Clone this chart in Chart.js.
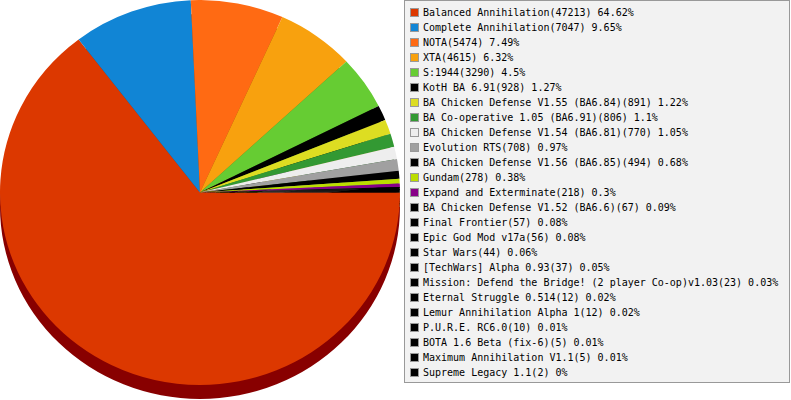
<!DOCTYPE html>
<html>
<head>
<meta charset="utf-8">
<script src="https://cdn.jsdelivr.net/npm/chart.js@4/dist/chart.umd.min.js"></script>
<style>
  body { margin: 0; background: #fff; width: 791px; height: 400px; overflow: hidden; position: relative; }
  #pieWrap { position: absolute; left: 0; top: 0; width: 400px; height: 400px; }
  #legend {
    position: absolute; left: 404px; top: 0; width: 384px; height: 377px;
    border: 1px solid #999; background: #f2f2f2; padding-top: 4px;
    font-family: "DejaVu Sans Mono", monospace; font-size: 10px; color: #000;
  }
  .fila { height: 15px; display: flex; align-items: center; white-space: nowrap; }
  .caja { width: 7px; height: 7px; border: 1px solid #999; margin-left: 5px; margin-right: 4px; }
</style>
</head>
<body>
<div id="pieWrap"><canvas id="pie" width="400" height="400"></canvas></div>
<div id="legend"></div>
<script>
// Datos del grafico
const mods = ['Balanced Annihilation', 'Complete Annihilation', 'NOTA', 'XTA', 'S:1944', 'KotH BA 6.91',
  'BA Chicken Defense V1.55 (BA6.84)', 'BA Co-operative 1.05 (BA6.91)', 'BA Chicken Defense V1.54 (BA6.81)',
  'Evolution RTS', 'BA Chicken Defense V1.56 (BA6.85)', 'Gundam', 'Expand and Exterminate',
  'BA Chicken Defense V1.52 (BA6.6)', 'Final Frontier', 'Epic God Mod v17a', 'Star Wars',
  '[TechWars] Alpha 0.93', 'Mission: Defend the Bridge! (2 player Co-op)v1.03', 'Eternal Struggle 0.514',
  'Lemur Annihilation Alpha 1', 'P.U.R.E. RC6.0', 'BOTA 1.6 Beta (fix-6)', 'Maximum Annihilation V1.1',
  'Supreme Legacy 1.1'];
const partidas = [47213, 7047, 5474, 4615, 3290, 928, 891, 806, 770, 708, 494, 278, 218, 67, 57, 56, 44, 37, 23, 12, 12, 10, 5, 5, 2];
const porcentajes = ['64.62', '9.65', '7.49', '6.32', '4.5', '1.27', '1.22', '1.1', '1.05', '0.97', '0.68', '0.38', '0.3',
  '0.09', '0.08', '0.08', '0.06', '0.05', '0.03', '0.02', '0.02', '0.01', '0.01', '0.01', '0'];
const colores = ['#dc3800', '#1185d5', '#ff6a13', '#f8a10e', '#66cc33', '#000000', '#dddd22', '#339933', '#eeeeee',
  '#a0a0a0', '#000000', '#bbdd00', '#880088', '#000000', '#000000', '#000000', '#000000', '#000000', '#000000',
  '#000000', '#000000', '#000000', '#000000', '#000000', '#000000'];
const sombras = ['#880000', '#0a4f80', '#99400b', '#955f08', '#3d7a1f', '#000000', '#858514', '#1f5c1f', '#8f8f8f',
  '#606060', '#000000', '#708500', '#520052', '#000000', '#000000', '#000000', '#000000', '#000000', '#000000',
  '#000000', '#000000', '#000000', '#000000', '#000000', '#000000'];

const escalaY = 0.9625; // pastel un poco achatado
const grosor = 14;      // profundidad de la sombra 3D

// Plugin para el efecto 3D (sombra debajo del pastel)
const pastel3D = {
    id: 'pastel3D',
    beforeDatasetsDraw(chart) {
        const ctx = chart.ctx;
        ctx.save();
        ctx.scale(1, escalaY);
        const meta = chart.getDatasetMeta(0);
        meta.data.forEach((arco, i) => {
            const p = arco.getProps(['x', 'y', 'startAngle', 'endAngle', 'outerRadius'], true);
            ctx.save();
            ctx.translate(0, grosor / escalaY);
            ctx.fillStyle = sombras[i];
            ctx.beginPath();
            ctx.moveTo(p.x, p.y);
            ctx.arc(p.x, p.y, p.outerRadius, p.startAngle, p.endAngle);
            ctx.closePath();
            ctx.fill();
            ctx.restore();
        });
    },
    afterDatasetsDraw(chart) {
        chart.ctx.restore();
    }
};

new Chart(document.getElementById('pie').getContext('2d'), {
    type: 'pie',
    data: {
        labels: mods,
        datasets: [{
            data: partidas,
            backgroundColor: colores,
            borderWidth: 0
        }]
    },
    options: {
        responsive: false,
        animation: false,
        rotation: 90,
        layout: { padding: 0 },
        plugins: {
            legend: { display: false },
            tooltip: { enabled: false }
        }
    },
    plugins: [pastel3D]
});

// Leyenda a la derecha
const leyenda = document.getElementById('legend');
mods.forEach((mod, i) => {
    const fila = document.createElement('div');
    fila.className = 'fila';
    const caja = document.createElement('div');
    caja.className = 'caja';
    caja.style.background = colores[i];
    const texto = document.createElement('span');
    texto.textContent = `${mod}(${partidas[i]}) ${porcentajes[i]}%`;
    fila.appendChild(caja);
    fila.appendChild(texto);
    leyenda.appendChild(fila);
});
</script>
</body>
</html>
